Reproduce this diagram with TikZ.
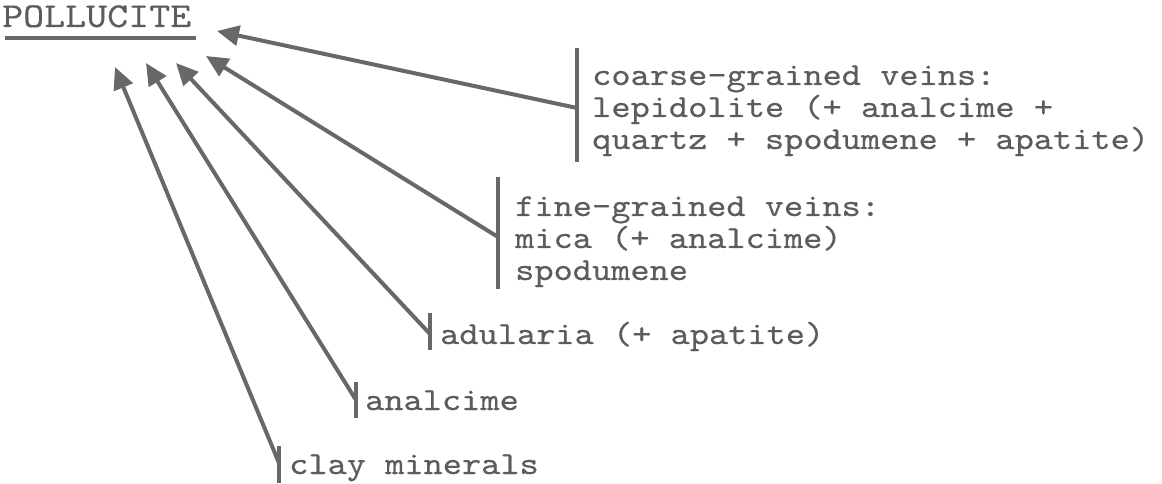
\documentclass[tikz,border=0pt]{standalone}
\usepackage{fontspec}
% typewriter face widened to the usual 0.6em pitch
\newfontfamily\typefont[FakeStretch=1.143,FakeBold=0.4]{lmmono10-regular.otf}
\usetikzlibrary{arrows.meta}
\definecolor{ink}{RGB}{104,104,104}
\definecolor{txt}{RGB}{92,92,92}
\tikzset{
  label/.style={anchor=base west, inner sep=0pt, align=left, text=txt,
    font=\typefont\fontsize{32bp}{32bp}\selectfont},
  bar/.style={draw=ink, line width=4bp},
  feed/.style={draw=ink, line width=4bp,
    -{Triangle[length=22bp,width=20bp]}},
}
\begin{document}
\begin{tikzpicture}[x=1bp,y=-1bp]
\useasboundingbox (0,0) rectangle (1162,484);

% target mineral
\node[label, font=\typefont\fontsize{35bp}{35bp}\selectfont] (poll) at (2,27) {POLLUCITE};
\draw[bar] (5,38) -- (196,38);

% alteration products, each marked by a vertical bar
% (multi-line labels are placed by the baseline of their last line)
\node[label] (coarse) at (592,149) {coarse-grained veins:\\lepidolite (+ analcime +\\quartz + spodumene + apatite)};
\node[label] (fine) at (515,280) {fine-grained veins:\\mica (+ analcime)\\spodumene};
\node[label] (adul) at (440,344) {adularia (+ apatite)};
\node[label] (anal) at (365,410) {analcime};
\node[label] (clay) at (289,474) {clay minerals};

\coordinate (c-top) at (577,48);  \coordinate (c-bot) at (577,162);
\coordinate (f-top) at (498,177); \coordinate (f-bot) at (498,289);
\coordinate (a-top) at (430,313); \coordinate (a-bot) at (430,350);
\coordinate (n-top) at (356,382); \coordinate (n-bot) at (356,418);
\coordinate (k-top) at (279,446); \coordinate (k-bot) at (279,483);

\draw[bar] (c-top) -- (c-bot);
\draw[bar] (f-top) -- (f-bot);
\draw[bar] (a-top) -- (a-bot);
\draw[bar] (n-top) -- (n-bot);
\draw[bar] (k-top) -- (k-bot);

% where the arrows leave the bars and where they point
\coordinate (c-join) at (577,108); \coordinate (c-tip) at (217,31);
\coordinate (f-join) at (498,237); \coordinate (f-tip) at (206,56);
\coordinate (a-join) at (430,334); \coordinate (a-tip) at (176,63);
\coordinate (n-join) at (356,400); \coordinate (n-tip) at (146,63);
\coordinate (k-join) at (279,463); \coordinate (k-tip) at (115,67);

\draw[feed] (c-join) -- (c-tip);
\draw[feed] (f-join) -- (f-tip);
\draw[feed] (a-join) -- (a-tip);
\draw[feed] (n-join) -- (n-tip);
\draw[feed] (k-join) -- (k-tip);
\end{tikzpicture}
\end{document}
